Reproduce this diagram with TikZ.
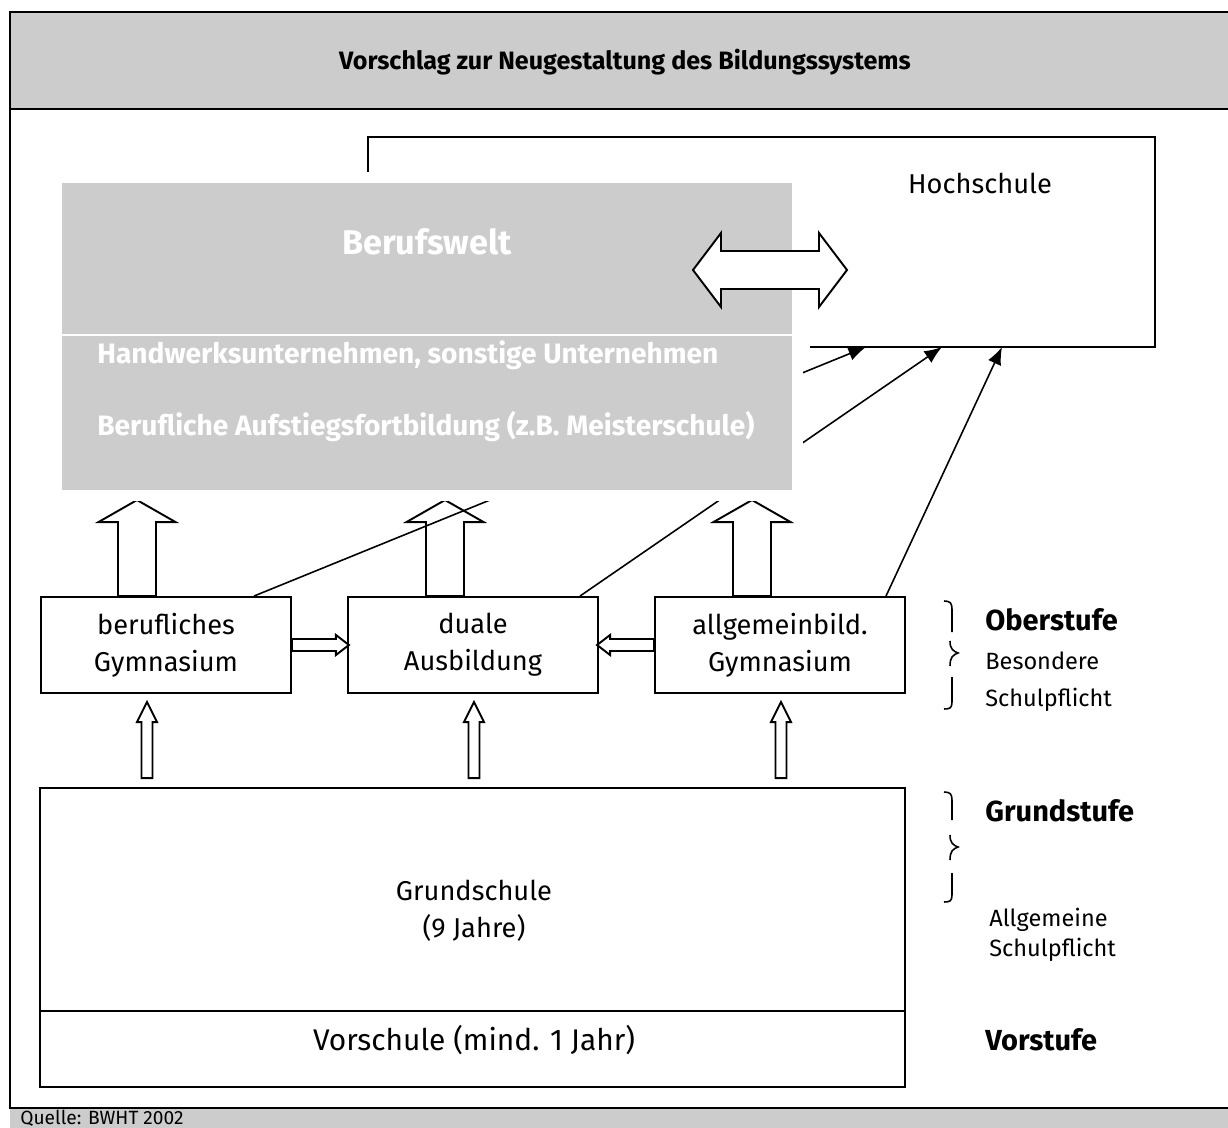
\documentclass[tikz,border=0pt]{standalone}
\usepackage{fontspec}
\setmainfont{Fira Sans}
\usetikzlibrary{arrows.meta,calc}
\definecolor{panelgray}{HTML}{CCCCCC}

\tikzset{
  pics/hollowup/.style n args={4}{code={
    \draw[fill=white,line width=1.1pt,line join=miter]
      (-#1,0) -- (-#1,-#4+#3) -- (-#2,-#4+#3) -- (0,-#4) -- (#2,-#4+#3) -- (#1,-#4+#3) -- (#1,0) -- cycle;
  }},
}

\begin{document}
\begin{tikzpicture}[x=0.02cm,y=-0.02cm,
    schoolbox/.style={draw,line width=1.1pt,minimum width=5cm,minimum height=1.92cm,align=center,
      font=\fontsize{15.5}{21}\selectfont},
    sidelabel/.style={anchor=west,inner sep=0pt},
    stage/.style={sidelabel,font=\fontsize{16.5}{20}\selectfont\bfseries},
    duty/.style={sidelabel,font=\fontsize{13.4}{16}\selectfont},
    brace/.style={line width=0.9pt},
    into/.style={line width=0.9pt,-{Latex[length=10pt,width=8pt]}},
    worktext/.style={anchor=west,inner sep=0pt,text=white,font=\fontsize{16}{19}\selectfont\bfseries}]
  \useasboundingbox (0,0) rectangle (1228,1128);

  % title band and frame
  \fill[panelgray] (10,12) rectangle (1250,109);
  \fill[panelgray] (10,1108) rectangle (1250,1140);
  \draw[line width=1.7pt] (1250,12) -- (10,12) -- (10,1108) -- (1250,1108);
  \draw[line width=1.7pt] (10,109) -- (1250,109);
  \node (title) at (625,62) {\fontsize{14.3}{17}\selectfont\bfseries Vorschlag zur Neugestaltung des Bildungssystems};
  \node[anchor=base west,inner sep=0pt] (source) at (20,1124) {\fontsize{10.9}{13}\selectfont Quelle: BWHT 2002};

  % upper level
  \node[schoolbox] (bg) at (166,645) {berufliches\\Gymnasium};
  \node[schoolbox] (dual) at (473,645) {duale\\Ausbildung};
  \node[schoolbox] (ag) at (780,645) {allgemeinbild.\\Gymnasium};

  % lower level
  \node[draw,line width=1.1pt,minimum width=17.3cm,minimum height=5.98cm] (grund) at (472.5,937.5) {};
  \draw[line width=1.1pt] (grund.west |- 0,1011) -- (grund.east |- 0,1011);
  \node[align=center,font=\fontsize{15.5}{21}\selectfont] (grundtext) at (474,911) {Grundschule\\(9 Jahre)};
  \node[font=\fontsize{17}{21}\selectfont] (vortext) at (474,1040) {Vorschule (mind. 1 Jahr)};

  % arrows between the levels
  \pic at ($(bg.north)+(-29,0)$) {hollowup={19}{38.5}{22}{96}};
  \pic at ($(dual.north)+(-28,0)$) {hollowup={19}{38.5}{22}{96}};
  \pic at ($(ag.north)+(-28,0)$) {hollowup={19}{38.5}{22}{96}};
  \pic at ($(grund.north)+(-325.5,-9)$) {hollowup={5.5}{10}{20}{76}};
  \pic at ($(grund.north)+(1.5,-9)$) {hollowup={5.5}{10}{20}{76}};
  \pic at ($(grund.north)+(308.5,-9)$) {hollowup={5.5}{10}{20}{76}};
  \pic[rotate=-90] at (bg.east) {hollowup={6}{10}{13}{57}};
  \pic[rotate=90] at (ag.west) {hollowup={6}{10}{13}{57}};

  % Hochschule
  \node (hochschule) at (980,183) {\fontsize{15.5}{21}\selectfont Hochschule};
  \draw[line width=1.1pt] (368,172) -- (368,137) -- (1155,137) -- (1155,347) -- (810,347);
  \coordinate (hs1) at (866,347);
  \coordinate (hs2) at (942,347);
  \coordinate (hs3) at (1002,347);
  \draw[into] ($(bg.north)+(88,0)$) -- (hs1);
  \draw[into] ($(dual.north)+(107,0)$) -- (hs2);
  \draw[into] ($(ag.north)+(106,0)$) -- (hs3);

  % Berufswelt
  \fill[white] (51,172) rectangle (803,501);
  \fill[panelgray] (62,183) rectangle (792,490);
  \draw[white,line width=1pt] (62,335) -- (792,335);
  \node[text=white] (berufswelt) at (427,242) {\fontsize{19.5}{23}\selectfont\bfseries Berufswelt};
  \node[worktext] (handwerk) at (97,355) {Handwerksunternehmen, sonstige Unternehmen};
  \node[worktext] (fortbildung) at (97,427) {Berufliche Aufstiegsfortbildung (z.B. Meisterschule)};
  \draw[fill=white,line width=1.1pt,line join=miter] (693,270) -- (721,233) -- (721,251) -- (819,251) -- (819,233)
    -- (847,270) -- (819,307) -- (819,289) -- (721,289) -- (721,307) -- cycle;

  % stages
  \draw[brace] (944,601) .. controls (950,601) and (952,603) .. (952,609) -- (952,632);
  \draw[brace] (950,641) .. controls (950,649) and (953,651) .. (958,653) .. controls (953,655) and (950,657) .. (950,666);
  \draw[brace] (952,677) -- (952,702) .. controls (952,708) and (950,709) .. (944,709);
  \node[stage] (oberstufe) at (985,620) {Oberstufe};
  \node[duty] (besondere) at (985,661) {Besondere};
  \node[duty] (schulpflicht1) at (985,700) {Schulpflicht};

  \draw[brace] (944,792) .. controls (950,792) and (952,794) .. (952,800) -- (952,820);
  \draw[brace] (950,835) .. controls (950,843) and (953,845) .. (958,847) .. controls (953,849) and (950,851) .. (950,860);
  \draw[brace] (952,873) -- (952,895) .. controls (952,901) and (950,902) .. (944,902);
  \node[stage] (grundstufe) at (985,811) {Grundstufe};
  \node[duty] (allgemeine) at (989,920) {Allgemeine};
  \node[duty] (schulpflicht2) at (989,950) {Schulpflicht};

  \node[stage] (vorstufe) at (985,1040) {Vorstufe};
\end{tikzpicture}
\end{document}
